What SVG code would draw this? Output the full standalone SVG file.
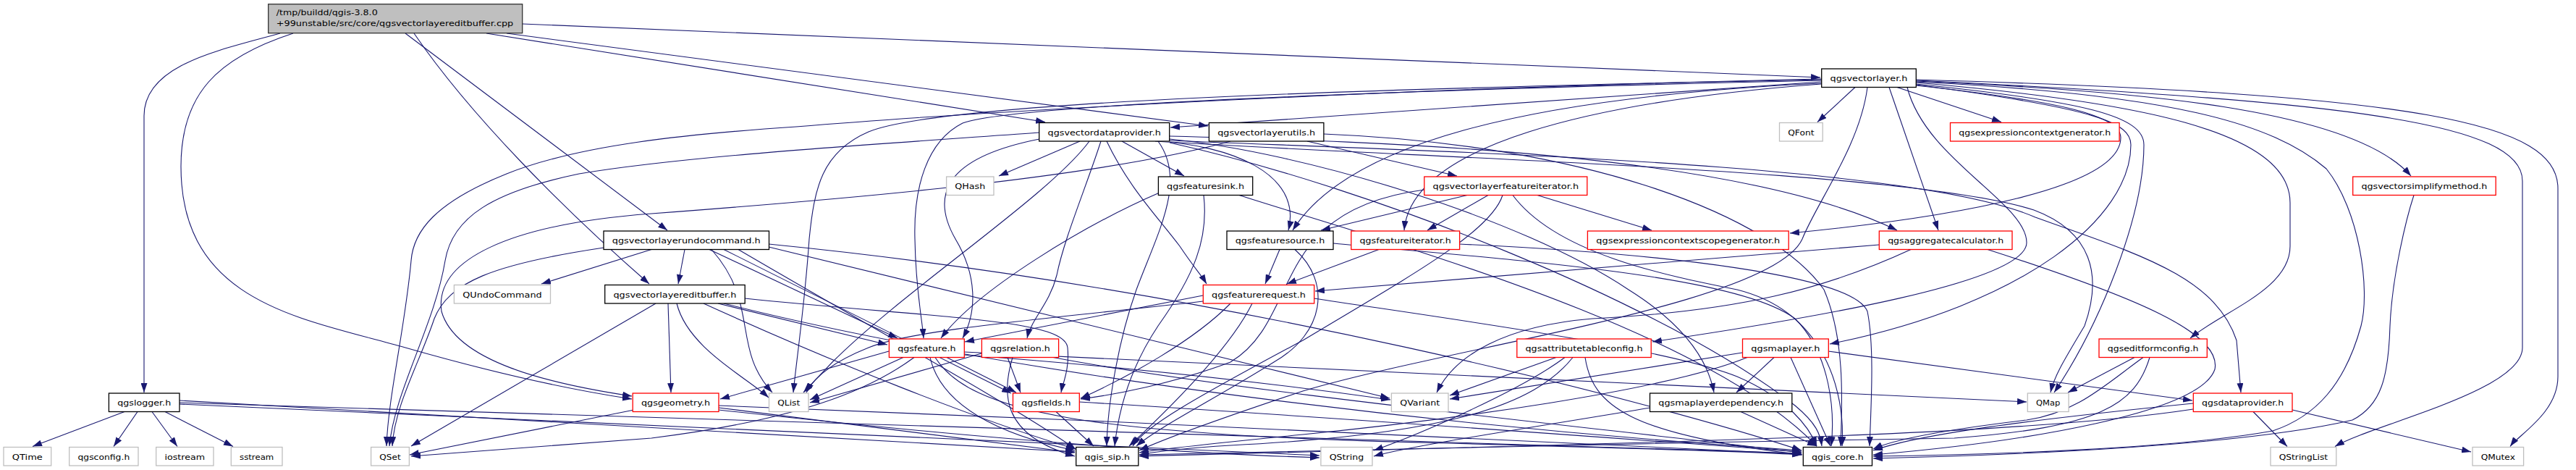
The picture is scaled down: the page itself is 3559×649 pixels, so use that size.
<svg xmlns="http://www.w3.org/2000/svg" width="3559" height="649" viewBox="0 0 3559 649">
<style>
.n rect{fill:#fff;stroke-width:1.3}
.b rect{stroke:#000}
.g rect{stroke:#bfbfbf}
.r rect{stroke:#ff0000}
text{font-family:"DejaVu Sans","Liberation Sans",sans-serif;font-size:10px;fill:#000}
.n text{text-anchor:middle}
#edges path{fill:none;stroke:#191970;stroke-width:1.1;marker-end:url(#a)}
</style>
<defs>
<marker id="a" markerWidth="13" markerHeight="9" refX="13" refY="4.5" orient="auto" markerUnits="userSpaceOnUse"><path d="M0,0 L13,4.5 L0,9 z" fill="#191970"/></marker>
</defs>
<rect width="3559" height="649" fill="#fff"/>
<g id="edges">
<path d="M387,46 C300,70 199,90 199,160 L199,542"/>
<path d="M405,46 C300,80 250,130 250,230 C250,420 420,440 560,480 C700,520 800,540 873,551"/>
<path d="M560,46 L922,318"/>
<path d="M572,46 C650,160 780,290 897,392"/>
<path d="M722,33 L2515,107"/>
<path d="M672,46 L1444,168.5"/>
<path d="M700,46 L1669,174"/>
<path d="M172,568.5 L45,616.5"/>
<path d="M190,568.5 L157,616.5"/>
<path d="M210,568.5 L245,616.5"/>
<path d="M228,568.5 L322,616.5"/>
<path d="M248,553 L1485,624"/>
<path d="M248,558 L1823,629"/>
<path d="M248,556 L2489,626"/>
<path d="M2516,113 L1617,176"/>
<path d="M2563,120.5 L2511,168.5"/>
<path d="M2621,120.5 L2765,168.5"/>
<path d="M2647,112 C2950,125 3250,150 3331,243"/>
<path d="M2647,114 C2950,140 3164,180 3164,280 L3164,340 C3164,400 3070,430 3026,467"/>
<path d="M2647,111 C3250,140 3485,170 3485,250 L3485,480 C3485,540 3280,585 3226,616.5"/>
<path d="M2647,110 C3350,130 3534,170 3534,260 L3534,520 C3534,570 3480,600 3468,616.5"/>
<path d="M2647,113 C3000,130 3140,170 3214,233 C3260,290 3275,400 3262,450 C3240,530 3200,575 3140,595 C3000,620 2750,628 2588,630"/>
<path d="M2647,116 C2880,140 2962,160 2962,200 C2962,300 2900,450 2838,542"/>
<path d="M2635,120.5 C2660,220 2800,280 2800,335 C2800,390 2500,440 2283,472"/>
<path d="M2647,117 C2900,150 2944,170 2944,200 C2944,300 2800,420 2528,475"/>
<path d="M2647,118 C2850,140 2930,160 2930,190 C2930,260 2700,300 2473,322"/>
<path d="M2610,120.5 L2678,318"/>
<path d="M2516,116 C2200,140 1950,200 1940,318"/>
<path d="M2516,115 C2100,135 1860,200 1786,318"/>
<path d="M2580,120.5 C2570,200 2510,280 2490,330 C2450,420 2000,480 1800,540 C1650,590 1600,610 1574,622"/>
<path d="M2516,111 C1900,125 1400,145 1330,170 C1280,195 1262,260 1264,330 C1265,400 1274,440 1276,467"/>
<path d="M2516,110 C1900,122 1300,140 1200,182 C1135,210 1125,260 1118,330 C1112,420 1100,500 1096,542"/>
<path d="M2516,109 C2000,120 1400,150 1100,175 C950,185 800,200 700,240 C600,280 571,320 568,360 C560,450 536,550 534,616"/>
<path d="M1492,195 L1380,243"/>
<path d="M1550,195 L1636,243"/>
<path d="M1436,183 C1200,200 950,215 800,240 C680,265 625,300 615,360 C600,450 545,540 538,616"/>
<path d="M1505,195 C1450,270 1250,400 1150,500 L1110,542"/>
<path d="M1521,195 C1500,260 1470,330 1460,380 C1450,420 1425,440 1419,467"/>
<path d="M1529,195 C1560,260 1600,300 1630,340 C1650,370 1660,380 1667,392"/>
<path d="M1596,195 C1700,200 1800,240 1780,318"/>
<path d="M1436,192 C1320,215 1280,260 1320,330 C1350,380 1350,430 1330,467"/>
<path d="M1616,188 C1900,195 2400,210 2621,318"/>
<path d="M1616,192 C1800,210 2100,300 2250,400 C2330,450 2360,500 2368,542"/>
<path d="M1616,194 C2000,210 2640,225 2812,300 C2950,350 3060,380 3090,470 L3096,542"/>
<path d="M1616,196 C2000,220 2640,235 2810,290 C2890,320 2905,380 2880,450 C2850,500 2838,520 2833,542"/>
<path d="M1616,197 C1900,260 2300,420 2480,560 C2510,585 2515,600 2517,616"/>
<path d="M1600,195 C1640,250 1600,320 1570,400 C1545,470 1530,560 1529,616"/>
<path d="M1806,195 L2013,243"/>
<path d="M1700,195 C1500,250 1100,280 900,295 C700,310 600,360 610,430 C630,500 760,530 873,547"/>
<path d="M1829,185 C2200,200 2450,300 2520,400 C2550,470 2545,560 2543,616"/>
<path d="M1602,266 C1500,310 1350,400 1300,467"/>
<path d="M1663,269.5 C1670,330 1650,380 1600,450 C1560,510 1545,570 1540,616"/>
<path d="M1712,269.5 C1900,330 2350,450 2510,616"/>
<path d="M2027,269.5 L1825,318"/>
<path d="M2056,269.5 L1972,318"/>
<path d="M2124,269.5 L2282,318"/>
<path d="M1968,262 C1750,290 1800,440 1700,500 C1620,530 1540,545 1493,551"/>
<path d="M2076,269.5 C2060,320 1950,380 1800,470 C1650,550 1580,590 1565,616"/>
<path d="M2090,269.5 C2150,350 2300,380 2400,400 C2520,430 2550,540 2545,616"/>
<path d="M1768,344.5 L1748,392"/>
<path d="M1789,344.5 C1840,390 1830,460 1760,500 C1680,550 1600,590 1570,616"/>
<path d="M1842,336 C2100,360 2400,380 2480,440 C2530,490 2535,570 2530,616"/>
<path d="M1905,344.5 L1778,392"/>
<path d="M2016,337 C2300,350 2560,380 2580,430 C2590,480 2585,560 2583,616"/>
<path d="M2596,338 L1817,402"/>
<path d="M2640,344.5 C2520,400 2400,430 2200,440 C2080,450 2010,490 1985,542"/>
<path d="M2746,344.5 C2950,410 3070,460 3060,510 C3040,570 2800,610 2588,628"/>
<path d="M1662,408 L1333,472"/>
<path d="M1662,416 C1450,440 1260,455 1200,480 C1150,500 1125,520 1114,542"/>
<path d="M1730,419 C1700,480 1620,560 1560,616"/>
<path d="M1815,412 C2000,440 2300,480 2400,520 C2470,550 2500,590 2510,616"/>
<path d="M1700,419 C1650,470 1560,520 1493,550"/>
<path d="M3335,269.5 C3325,300 3305,380 3302,450 C3300,520 3290,560 3250,580 C3100,615 2800,628 2588,633"/>
<path d="M2949,493.5 L2857,542"/>
<path d="M2961,493.5 C2910,530 2870,570 2800,580 C2700,592 2620,605 2588,620"/>
<path d="M2970,493.5 C2950,560 2900,590 2700,605 C2300,612 1800,620 1574,628"/>
<path d="M3113,568.5 L3160,616.5"/>
<path d="M3167,566 L3414,624"/>
<path d="M3030,557 C2800,580 2650,600 2588,622"/>
<path d="M3030,565 C2800,600 2400,608 1574,630"/>
<path d="M2451,493.5 L2399,542"/>
<path d="M2474,493.5 L2529,616"/>
<path d="M2407,487 L2003,551"/>
<path d="M2526,485 L3029,553"/>
<path d="M2414,493.5 C2300,540 2000,580 1800,600 C1700,610 1600,620 1574,625"/>
<path d="M2150,493.5 L2003,546"/>
<path d="M2162,493.5 C2100,540 1960,600 1898,622"/>
<path d="M2173,493.5 C2120,560 2000,600 1700,615 C1620,620 1590,625 1574,628"/>
<path d="M2190,493.5 C2200,560 2250,600 2490,628"/>
<path d="M2405,568.5 L2510,616"/>
<path d="M2280,563 C2150,585 1950,615 1898,630"/>
<path d="M876,566 L566,628"/>
<path d="M993,563 C1200,590 1400,615 1485,625"/>
<path d="M993,560 C1500,580 2200,610 2489,627"/>
<path d="M993,566 C1300,600 1600,625 1823,632"/>
<path d="M1228,485 L995,551"/>
<path d="M1248,493.5 L1119,552"/>
<path d="M1308,493.5 L1404,542"/>
<path d="M1285,493.5 C1300,560 1380,600 1485,622"/>
<path d="M1292,493.5 C1340,570 1500,600 2000,612 C2300,620 2450,625 2489,628"/>
<path d="M1263,493.5 C1200,540 1100,580 900,605 L568,630"/>
<path d="M1332,486 L2800,555"/>
<path d="M1332,490 C1600,510 1800,535 1921,552"/>
<path d="M1392,493.5 L1410,542"/>
<path d="M1399,493.5 C1385,540 1380,600 1485,630"/>
<path d="M1356,488 L1119,556"/>
<path d="M1455,493.5 C1700,540 2200,590 2489,625"/>
<path d="M1459,568.5 L1511,616"/>
<path d="M1491,555 C1900,580 2300,610 2489,624"/>
<path d="M906,419 L568,616"/>
<path d="M923,419 L927,542"/>
<path d="M935,419 C950,480 1030,520 1062,549"/>
<path d="M1029,412 C1300,440 1470,440 1475,480 C1478,510 1468,530 1466,542"/>
<path d="M992,419 L1226,476"/>
<path d="M972,419 C1150,500 1350,580 1486,620"/>
<path d="M1000,419 C1400,520 2000,590 2489,622"/>
<path d="M900,344.5 L748,392"/>
<path d="M946,344.5 L937,392"/>
<path d="M834,342 C680,365 620,390 600,440 C580,500 545,560 542,616"/>
<path d="M983,344.5 C1050,420 1010,480 1067,542"/>
<path d="M980,344.5 L1240,467"/>
<path d="M1000,344.5 L1397,543"/>
<path d="M1062,341 L1920,550"/>
<path d="M1020,344.5 C1200,450 1400,560 1486,620"/>
<path d="M1062,337 C1700,400 2300,560 2489,622"/>
</g>
<g id="node-root"><rect x="370.7" y="5.7" width="351" height="40" fill="#bfbfbf" stroke="#333" stroke-width="1.3"/><text x="381.7" y="21.3" textLength="140" lengthAdjust="spacingAndGlyphs">/tmp/buildd/qgis-3.8.0</text><text x="381.7" y="36" textLength="327.6" lengthAdjust="spacingAndGlyphs">+99unstable/src/core/qgsvectorlayereditbuffer.cpp</text></g>
<g id="node-vl" class="n b"><rect x="2516.7" y="95" width="130.6" height="25.5"/><text x="2582" y="112.3" textLength="107" lengthAdjust="spacingAndGlyphs">qgsvectorlayer.h</text></g>
<g id="node-vdp" class="n b"><rect x="1435.7" y="169.5" width="180" height="25.5"/><text x="1525.7" y="186.8" textLength="156.3" lengthAdjust="spacingAndGlyphs">qgsvectordataprovider.h</text></g>
<g id="node-vlu" class="n b"><rect x="1670.4" y="169.5" width="158.5" height="25.5"/><text x="1749.65" y="186.8" textLength="135" lengthAdjust="spacingAndGlyphs">qgsvectorlayerutils.h</text></g>
<g id="node-qfont" class="n g"><rect x="2458.5" y="169.5" width="59.7" height="25.5"/><text x="2488.35" y="186.8" textLength="36.2" lengthAdjust="spacingAndGlyphs">QFont</text></g>
<g id="node-ecg" class="n r"><rect x="2694.5" y="169.5" width="233.6" height="25.5"/><text x="2811.3" y="186.8" textLength="210" lengthAdjust="spacingAndGlyphs">qgsexpressioncontextgenerator.h</text></g>
<g id="node-qhash" class="n g"><rect x="1307.6" y="244" width="65.4" height="25.5"/><text x="1340.3" y="261.3" textLength="42" lengthAdjust="spacingAndGlyphs">QHash</text></g>
<g id="node-fsink" class="n b"><rect x="1600.4" y="244" width="130.3" height="25.5"/><text x="1665.55" y="261.3" textLength="107" lengthAdjust="spacingAndGlyphs">qgsfeaturesink.h</text></g>
<g id="node-vlfi" class="n r"><rect x="1967.8" y="244" width="225" height="25.5"/><text x="2080.3" y="261.3" textLength="201.5" lengthAdjust="spacingAndGlyphs">qgsvectorlayerfeatureiterator.h</text></g>
<g id="node-vsm" class="n r"><rect x="3250.7" y="244" width="197.5" height="25.5"/><text x="3349.45" y="261.3" textLength="174" lengthAdjust="spacingAndGlyphs">qgsvectorsimplifymethod.h</text></g>
<g id="node-undo" class="n b"><rect x="834" y="319" width="228.5" height="25.5"/><text x="948.25" y="336.3" textLength="205" lengthAdjust="spacingAndGlyphs">qgsvectorlayerundocommand.h</text></g>
<g id="node-fsrc" class="n b"><rect x="1695" y="319" width="147" height="25.5"/><text x="1768.5" y="336.3" textLength="123.5" lengthAdjust="spacingAndGlyphs">qgsfeaturesource.h</text></g>
<g id="node-fit" class="n r"><rect x="1866.8" y="319" width="149.8" height="25.5"/><text x="1941.7" y="336.3" textLength="126.3" lengthAdjust="spacingAndGlyphs">qgsfeatureiterator.h</text></g>
<g id="node-ecsg" class="n r"><rect x="2193.4" y="319" width="277.8" height="25.5"/><text x="2332.3" y="336.3" textLength="254" lengthAdjust="spacingAndGlyphs">qgsexpressioncontextscopegenerator.h</text></g>
<g id="node-aggc" class="n r"><rect x="2596.3" y="319" width="183.7" height="25.5"/><text x="2688.15" y="336.3" textLength="160" lengthAdjust="spacingAndGlyphs">qgsaggregatecalculator.h</text></g>
<g id="node-qundo" class="n g"><rect x="627.4" y="393.5" width="133.1" height="25.5"/><text x="693.95" y="410.8" textLength="109.6" lengthAdjust="spacingAndGlyphs">QUndoCommand</text></g>
<g id="node-eb" class="n b"><rect x="835.7" y="393.5" width="193.5" height="25.5"/><text x="932.45" y="410.8" textLength="170" lengthAdjust="spacingAndGlyphs">qgsvectorlayereditbuffer.h</text></g>
<g id="node-freq" class="n r"><rect x="1662.3" y="393.5" width="153.4" height="25.5"/><text x="1739" y="410.8" textLength="130" lengthAdjust="spacingAndGlyphs">qgsfeaturerequest.h</text></g>
<g id="node-feat" class="n r"><rect x="1228.4" y="468" width="103.9" height="25.5"/><text x="1280.35" y="485.3" textLength="80.4" lengthAdjust="spacingAndGlyphs">qgsfeature.h</text></g>
<g id="node-rel" class="n r"><rect x="1356.4" y="468" width="106.2" height="25.5"/><text x="1409.5" y="485.3" textLength="82.7" lengthAdjust="spacingAndGlyphs">qgsrelation.h</text></g>
<g id="node-atc" class="n r"><rect x="2095.8" y="468" width="185.4" height="25.5"/><text x="2188.5" y="485.3" textLength="162" lengthAdjust="spacingAndGlyphs">qgsattributetableconfig.h</text></g>
<g id="node-ml" class="n r"><rect x="2407.5" y="468" width="118.8" height="25.5"/><text x="2466.9" y="485.3" textLength="95.3" lengthAdjust="spacingAndGlyphs">qgsmaplayer.h</text></g>
<g id="node-efc" class="n r"><rect x="2900" y="468" width="149.3" height="25.5"/><text x="2974.65" y="485.3" textLength="125.8" lengthAdjust="spacingAndGlyphs">qgseditformconfig.h</text></g>
<g id="node-logger" class="n b"><rect x="150.4" y="543" width="97.6" height="25.5"/><text x="199.2" y="560.3" textLength="74" lengthAdjust="spacingAndGlyphs">qgslogger.h</text></g>
<g id="node-geom" class="n r"><rect x="874.2" y="543" width="118.8" height="25.5"/><text x="933.6" y="560.3" textLength="95.3" lengthAdjust="spacingAndGlyphs">qgsgeometry.h</text></g>
<g id="node-qlist" class="n g"><rect x="1062.5" y="543" width="54.5" height="25.5"/><text x="1089.75" y="560.3" textLength="31" lengthAdjust="spacingAndGlyphs">QList</text></g>
<g id="node-fields" class="n r"><rect x="1399.5" y="543" width="91.8" height="25.5"/><text x="1445.4" y="560.3" textLength="68.3" lengthAdjust="spacingAndGlyphs">qgsfields.h</text></g>
<g id="node-qvariant" class="n g"><rect x="1922.4" y="543" width="78.6" height="25.5"/><text x="1961.7" y="560.3" textLength="55" lengthAdjust="spacingAndGlyphs">QVariant</text></g>
<g id="node-mld" class="n b"><rect x="2279.5" y="543" width="196.3" height="25.5"/><text x="2377.65" y="560.3" textLength="172.8" lengthAdjust="spacingAndGlyphs">qgsmaplayerdependency.h</text></g>
<g id="node-qmap" class="n g"><rect x="2801.3" y="543" width="56.8" height="25.5"/><text x="2829.7" y="560.3" textLength="33.3" lengthAdjust="spacingAndGlyphs">QMap</text></g>
<g id="node-dp" class="n r"><rect x="3030.3" y="543" width="136.7" height="25.5"/><text x="3098.65" y="560.3" textLength="113.2" lengthAdjust="spacingAndGlyphs">qgsdataprovider.h</text></g>
<g id="node-qtime" class="n g"><rect x="5" y="617.5" width="65.7" height="25.5"/><text x="37.85" y="634.8" textLength="42" lengthAdjust="spacingAndGlyphs">QTime</text></g>
<g id="node-qgsconfig" class="n g"><rect x="95.7" y="617.5" width="95.3" height="25.5"/><text x="143.35" y="634.8" textLength="71.8" lengthAdjust="spacingAndGlyphs">qgsconfig.h</text></g>
<g id="node-iostream" class="n g"><rect x="215.7" y="617.5" width="79.3" height="25.5"/><text x="255.35" y="634.8" textLength="55.8" lengthAdjust="spacingAndGlyphs">iostream</text></g>
<g id="node-sstream" class="n g"><rect x="319.3" y="617.5" width="70.7" height="25.5"/><text x="354.65" y="634.8" textLength="47.2" lengthAdjust="spacingAndGlyphs">sstream</text></g>
<g id="node-qset" class="n g"><rect x="512.6" y="617.5" width="52.8" height="25.5"/><text x="539" y="634.8" textLength="29.3" lengthAdjust="spacingAndGlyphs">QSet</text></g>
<g id="node-sip" class="n b"><rect x="1486.7" y="617.5" width="86.1" height="25.5"/><text x="1529.75" y="634.8" textLength="62.6" lengthAdjust="spacingAndGlyphs">qgis_sip.h</text></g>
<g id="node-qstring" class="n g"><rect x="1824.9" y="617.5" width="71.1" height="25.5"/><text x="1860.45" y="634.8" textLength="47.6" lengthAdjust="spacingAndGlyphs">QString</text></g>
<g id="node-core" class="n b"><rect x="2491.3" y="617.5" width="95.2" height="25.5"/><text x="2538.9" y="634.8" textLength="71.7" lengthAdjust="spacingAndGlyphs">qgis_core.h</text></g>
<g id="node-qsl" class="n g"><rect x="3137" y="617.5" width="90.8" height="25.5"/><text x="3182.4" y="634.8" textLength="67.3" lengthAdjust="spacingAndGlyphs">QStringList</text></g>
<g id="node-qmutex" class="n g"><rect x="3416" y="617.5" width="70.6" height="25.5"/><text x="3451.3" y="634.8" textLength="47.1" lengthAdjust="spacingAndGlyphs">QMutex</text></g>
</svg>
